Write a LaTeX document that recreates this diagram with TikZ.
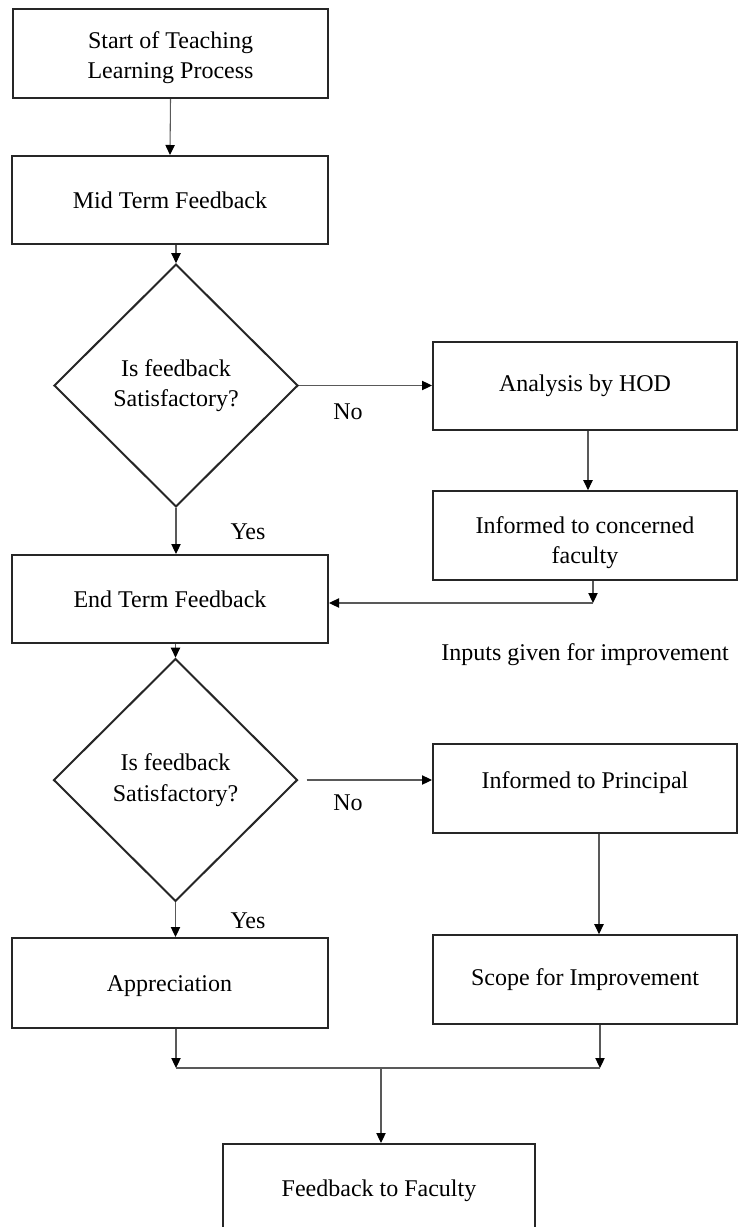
\documentclass[tikz,border=0pt]{standalone}
\usepackage{fontspec}
\setmainfont{Liberation Serif}
\usetikzlibrary{shapes.geometric,arrows.meta}
\begin{document}
\begin{tikzpicture}[x=0.75pt,y=-0.75pt,
  box/.style={draw=black!85, line width=1.5pt, rectangle, inner sep=0pt, align=center, font=\fontsize{18}{23}\selectfont},
  lbox/.style={box, minimum width=237pt, minimum height=66pt},
  rbox/.style={box, minimum width=228pt, minimum height=66.5pt},
  dec/.style={draw=black!85, line width=1.5pt, diamond, aspect=1, inner sep=0pt, align=center, font=\fontsize{18}{23}\selectfont, minimum width=183pt, minimum height=182pt},
  conn/.style={draw=black!65, line width=0.8pt},
  arr/.style={conn, -{Triangle[length=7.5pt,width=7pt,color=black]}},
  lbl/.style={font=\fontsize{18}{23}\selectfont, inner sep=0pt, align=center}]
\useasboundingbox (0,0) rectangle (740,1227);
\clip (0,0) rectangle (740,1227);
\fill[white] (0,0) rectangle (740,1227);

\node[lbox, minimum width=236pt, minimum height=67pt] (start) at (170.5,53.5) {};
\node[lbl] (starttxt) at ([yshift=-3pt]start.center) {Start of Teaching\\Learning Process};
\node[lbox] (mid) at (170,200) {Mid Term Feedback};
\node[dec] (d1) at (176,385.5) {Is feedback\\Satisfactory?};
\node[rbox] (hod) at (585,386) {Analysis by HOD};
\node[rbox] (inf) at (585,535.5) {};
\node[lbl] (inftxt) at ([yshift=-5.25pt]inf.center) {Informed to concerned\\faculty};
\node[lbox] (end) at (170,599) {End Term Feedback};
\node[dec] (d2) at (175.5,780) {Is feedback\\Satisfactory?};
\node[rbox] (prin) at (585,788.5) {};
\node[lbl] (printxt) at ([yshift=4.5pt]prin.center) {Informed to Principal};
\node[rbox] (scope) at (585,979.5) {Scope for Improvement};
\node[lbox, minimum height=67.5pt] (appr) at (169.5,983) {};
\node[lbl] (apprtxt) at ([yshift=-2pt]appr.center) {Appreciation};
\node[box, minimum width=234pt, minimum height=66pt] (fb) at (379,1188) {};
\node[lbl] (fbtxt) at ([yshift=-2pt]fb.center) {Feedback to Faculty};

\node[lbl] (no1) at (348,412) {No};
\node[lbl] (yes1) at (248,532) {Yes};
\node[lbl] (inp) at (585,655) {Inputs given for improvement};
\node[lbl] (no2) at (348,803) {No};
\node[lbl] (yes2) at (248,921) {Yes};

\draw[arr] (start.south) -- (mid.north);
\draw[arr] (d1.north |- mid.south) -- (d1.north);
\draw[arr] (d1.east) -- (d1.east -| hod.west);
\draw[arr] ([xshift=2.25pt]hod.south) -- ([xshift=2.25pt]inf.north);
\coordinate (j1) at (593,603);
\draw[arr] (inf.south -| j1) -- (j1);
\draw[arr] (j1) -- (j1 -| end.east);
\draw[arr] (d1.south) -- (d1.south |- end.north);
\draw[arr] (d2.north |- end.south) -- (d2.north);
\draw[arr] ([xshift=6pt]d2.east) -- (d2.east -| prin.west);
\draw[arr] ([xshift=10.5pt]prin.south) -- ([xshift=10.5pt]scope.north);
\draw[arr] (d2.south) -- (d2.south |- appr.north);
\coordinate (m1) at (176,1068);
\coordinate (m2) at (600,1068);
\coordinate (m3) at (381,1068);
\draw[arr] (appr.south -| m1) -- (m1);
\draw[arr] (scope.south -| m2) -- (m2);
\draw[conn] (m1) -- (m2);
\draw[arr] (m3) -- (m3 |- fb.north);
\end{tikzpicture}
\end{document}
